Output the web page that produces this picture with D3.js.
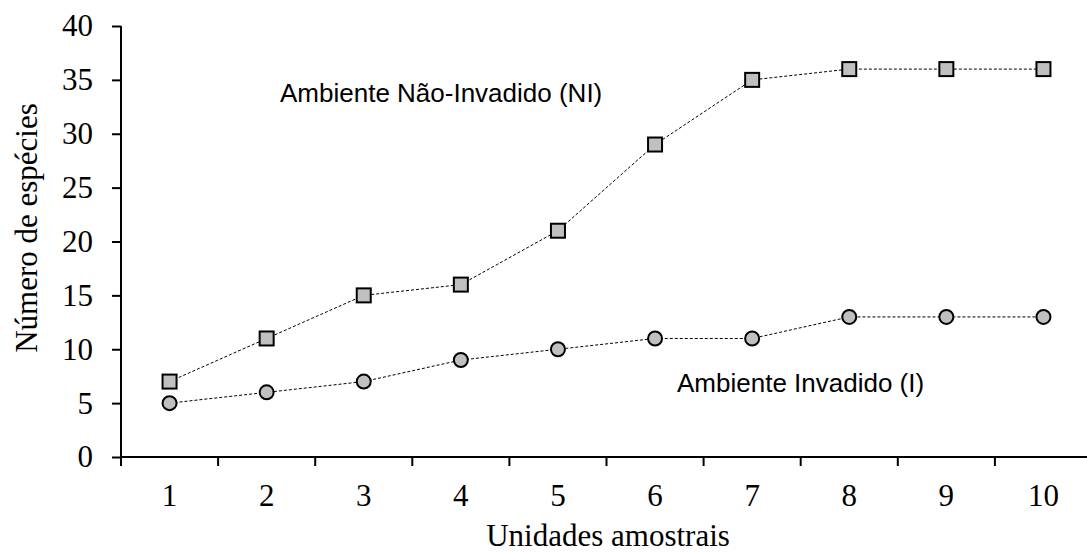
<!DOCTYPE html>
<html lang="pt">
<head>
    <meta charset="UTF-8">
    <title>Número de espécies</title>
    <script src="https://d3js.org/d3.v7.min.js"></script>
    <style>
        body { margin: 0; background: #fff; }
    </style>
</head>
<body>
    <div id="chart"></div>

    <script>
        var units = [1, 2, 3, 4, 5, 6, 7, 8, 9, 10];
        var naoInvadido = [7, 11, 15, 16, 21, 29, 35, 36, 36, 36];
        var invadido = [5, 6, 7, 9, 10, 11, 11, 13, 13, 13];
        var yTicks = [0, 5, 10, 15, 20, 25, 30, 35, 40];

        var w = 1087;
        var h = 553;
        var plotLeft = 121, plotTop = 26, plotBottom = 457;
        var bandW = 97.1;
        var serif = "'Liberation Serif', 'Times New Roman', serif";
        var sans = "'Liberation Sans', Arial, sans-serif";

        var svg = d3.select("#chart").append("svg")
            .attr("width", w)
            .attr("height", h);

        var xScale = d3.scaleBand()
            .domain(units)
            .range([plotLeft, plotLeft + bandW * units.length]);

        var yScale = d3.scaleLinear()
            .domain([0, 40])
            .range([plotBottom, plotTop]);

        // y axis
        var yAxis = svg.append("g")
            .attr("transform", "translate(" + plotLeft + ",0)")
            .call(d3.axisLeft(yScale).tickValues(yTicks).tickSize(9).tickPadding(19));
        yAxis.select(".domain").attr("stroke-width", 2).attr("d", "M0," + plotTop + "V" + plotBottom);

        // x axis, ticks sit between categories
        var xAxis = svg.append("g")
            .attr("transform", "translate(0," + plotBottom + ")")
            .call(d3.axisBottom(xScale).tickSize(0).tickPadding(27));
        xAxis.select(".domain").attr("stroke-width", 2).attr("d", "M" + plotLeft + ",0H" + w);
        xAxis.selectAll(".sep")
            .data(units.concat([11]))
            .enter()
            .append("line")
            .attr("class", "sep")
            .attr("x1", function(d, i) { return plotLeft + i * bandW; })
            .attr("x2", function(d, i) { return plotLeft + i * bandW; })
            .attr("y1", 0)
            .attr("y2", 9)
            .attr("stroke", "#000")
            .attr("stroke-width", 2);

        svg.selectAll(".tick line").attr("stroke-width", 2);
        svg.selectAll(".tick text")
            .style("font-family", serif)
            .style("font-size", "31px")
            .attr("fill", "#000");

        var cx = function(d, i) { return xScale(units[i]) + xScale.bandwidth() / 2; };

        var line = d3.line()
            .x(function(d, i) { return cx(d, i); })
            .y(function(d) { return yScale(d); });

        [naoInvadido, invadido].forEach(function(s) {
            svg.append("path")
                .datum(s)
                .attr("d", line)
                .attr("fill", "none")
                .attr("stroke", "#000")
                .attr("stroke-width", 1)
                .attr("stroke-dasharray", "3,2");
        });

        svg.selectAll(".sq")
            .data(naoInvadido)
            .enter()
            .append("rect")
            .attr("class", "sq")
            .attr("x", function(d, i) { return cx(d, i) - 7; })
            .attr("y", function(d) { return yScale(d) - 7; })
            .attr("width", 14)
            .attr("height", 14)
            .attr("fill", "#c0c0c0")
            .attr("stroke", "#000")
            .attr("stroke-width", 2);

        svg.selectAll(".ci")
            .data(invadido)
            .enter()
            .append("circle")
            .attr("class", "ci")
            .attr("cx", function(d, i) { return cx(d, i); })
            .attr("cy", function(d) { return yScale(d); })
            .attr("r", 7)
            .attr("fill", "#c0c0c0")
            .attr("stroke", "#000")
            .attr("stroke-width", 2);

        // labels inside the plot
        svg.append("text")
            .attr("x", 280)
            .attr("y", 102)
            .style("font-family", sans)
            .style("font-size", "26px")
            .text("Ambiente Não-Invadido (NI)");

        svg.append("text")
            .attr("x", 677)
            .attr("y", 392)
            .style("font-family", sans)
            .style("font-size", "26px")
            .text("Ambiente Invadido (I)");

        // axis titles
        svg.append("text")
            .attr("x", 608)
            .attr("y", 546)
            .attr("text-anchor", "middle")
            .style("font-family", serif)
            .style("font-size", "31px")
            .text("Unidades amostrais");

        svg.append("text")
            .attr("transform", "translate(37,228) rotate(-90)")
            .attr("text-anchor", "middle")
            .style("font-family", serif)
            .style("font-size", "31px")
            .text("Número de espécies");
    </script>
</body>
</html>
